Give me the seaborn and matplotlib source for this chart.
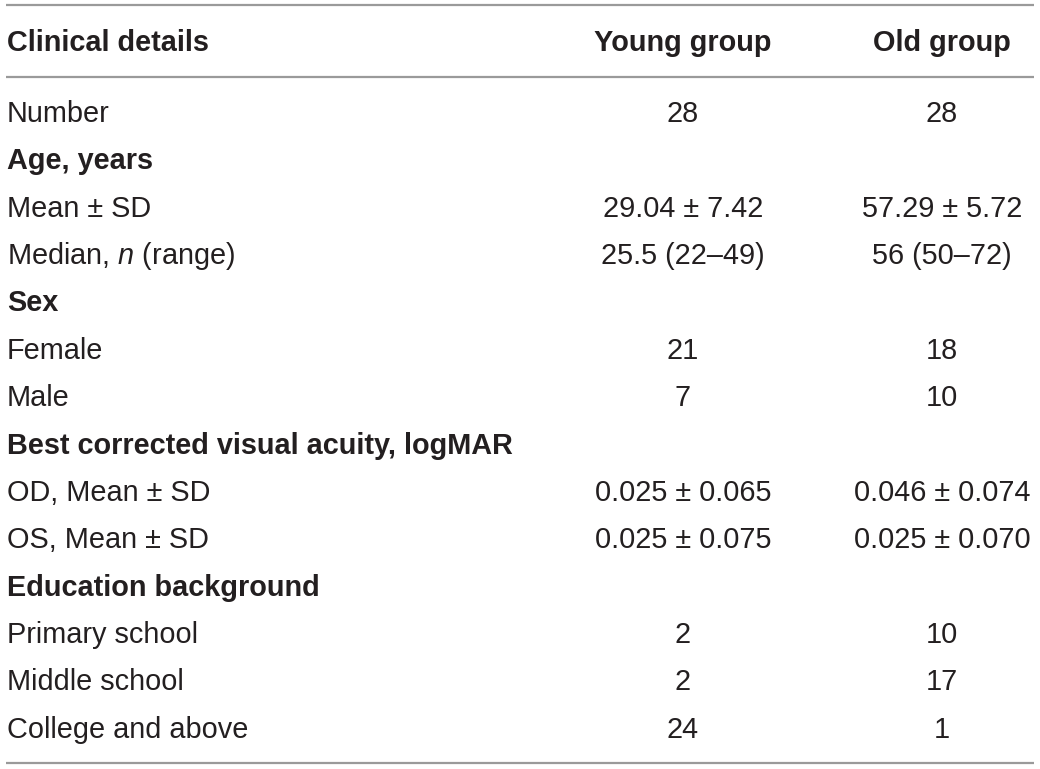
import matplotlib
matplotlib.use("Agg")
import matplotlib.pyplot as plt
import seaborn as sns

sns.set_theme(style="white")
plt.rcParams['font.family'] = ['Liberation Sans', 'DejaVu Sans']
plt.rcParams['mathtext.fontset'] = 'custom'
plt.rcParams['mathtext.rm'] = 'Liberation Sans'
plt.rcParams['mathtext.it'] = 'Liberation Sans:italic'

# table content
header = ["Clinical details", "Young group", "Old group"]
row_labels = ["Number", "Age, years", "Mean \u00b1 SD", "Median, $\\mathit{n}$ (range)",
              "Sex", "Female", "Male",
              "Best corrected visual acuity, logMAR", "OD, Mean \u00b1 SD", "OS, Mean \u00b1 SD",
              "Education background", "Primary school", "Middle school", "College and above"]
young = ["28", "", "29.04 \u00b1 7.42", "25.5 (22\u201349)", "", "21", "7",
         "", "0.025 \u00b1 0.065", "0.025 \u00b1 0.075", "", "2", "2", "24"]
old = ["28", "", "57.29 \u00b1 5.72", "56 (50\u201372)", "", "18", "10",
       "", "0.046 \u00b1 0.074", "0.025 \u00b1 0.070", "", "10", "17", "1"]
section = [False, True, False, False, True, False, False,
           True, False, False, True, False, False, False]

text_color = "#231f20"
line_color = "#9a9a9a"
fs = 20.8

fig = plt.figure(figsize=(10.4, 7.69), dpi=100)
ax = fig.add_axes([0, 0, 1, 1])
ax.set_xlim(0, 1040)
ax.set_ylim(769, 0)
ax.axis('off')

col_x = [7, 683, 942]
header_y = 43
row0_y = 114
row_step = 47.37

# rules
for y in [5, 77, 763]:
    ax.plot([6, 1034], [y, y], color=line_color, lw=1.6, solid_capstyle='butt')

ax.text(col_x[0], header_y, header[0], ha='left', va='center', fontsize=fs,
        fontweight='bold', color=text_color)
for x, h in zip(col_x[1:], header[1:]):
    ax.text(x, header_y, h, ha='center', va='center', fontsize=fs,
            fontweight='bold', color=text_color)

for i, lab in enumerate(row_labels):
    y = row0_y + i * row_step
    ax.text(col_x[0], y, lab, ha='left', va='center', fontsize=fs,
            fontweight='bold' if section[i] else 'normal', color=text_color)
    ax.text(col_x[1], y, young[i], ha='center', va='center', fontsize=fs, color=text_color)
    ax.text(col_x[2], y, old[i], ha='center', va='center', fontsize=fs, color=text_color)

fig.savefig("out.png", dpi=100, facecolor="white")
